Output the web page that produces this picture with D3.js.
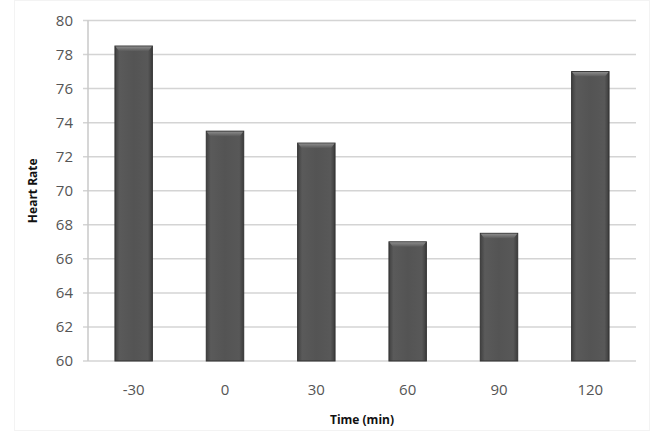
<!DOCTYPE html>
<html>
<head>
<meta charset="utf-8">
<script src="https://cdn.jsdelivr.net/npm/d3@7"></script>
<style>
  body { margin: 0; background: #fff; }
  text { font-family: "Open Sans", "Liberation Sans", sans-serif; }
</style>
</head>
<body>
<div id="chart"></div>
<script>
// heart rate by time point
const times = ["-30", "0", "30", "60", "90", "120"];
const heartRate = [78.5, 73.5, 72.8, 67, 67.5, 77];
const yTicks = [60, 62, 64, 66, 68, 70, 72, 74, 76, 78, 80];

const width = 657;
const height = 431;
const margin = { top: 20.5, right: 21, bottom: 70, left: 88 };

const svg = d3.select("#chart")
  .append("svg")
  .attr("width", width)
  .attr("height", height);

// faint outer frame
svg.append("rect")
  .attr("x", 14.5).attr("y", 0.5)
  .attr("width", width - 22).attr("height", height - 1)
  .attr("fill", "none")
  .attr("stroke", "#f3f3f3");

// bar shading
const defs = svg.append("defs");
const grad = defs.append("linearGradient")
  .attr("id", "barGrad")
  .attr("x1", "0%").attr("x2", "100%");
grad.append("stop").attr("offset", "0%").attr("stop-color", "#404040");
grad.append("stop").attr("offset", "12%").attr("stop-color", "#5a5a5a");
grad.append("stop").attr("offset", "50%").attr("stop-color", "#545454");
grad.append("stop").attr("offset", "88%").attr("stop-color", "#585858");
grad.append("stop").attr("offset", "100%").attr("stop-color", "#3c3c3c");

const topGrad = defs.append("linearGradient")
  .attr("id", "topGrad")
  .attr("x1", "0%").attr("x2", "0%").attr("y1", "0%").attr("y2", "100%");
topGrad.append("stop").attr("offset", "0%").attr("stop-color", "#8a8a8a");
topGrad.append("stop").attr("offset", "100%").attr("stop-color", "#5a5a5a");

const x = d3.scaleBand()
  .domain(times)
  .range([margin.left, width - margin.right])
  .paddingInner(0.59)
  .paddingOuter(0.295);

const y = d3.scaleLinear()
  .domain([60, 80])
  .range([361, margin.top]);

// gridlines
svg.append("g")
  .selectAll("line")
  .data(yTicks)
  .enter()
  .append("line")
  .attr("x1", margin.left - 5)
  .attr("x2", width - margin.right)
  .attr("y1", d => y(d))
  .attr("y2", d => y(d))
  .attr("stroke", "#d4d4d4")
  .attr("stroke-width", 1.5);

// y axis line
svg.append("line")
  .attr("x1", margin.left).attr("x2", margin.left)
  .attr("y1", y(80)).attr("y2", y(60))
  .attr("stroke", "#c8c8c8")
  .attr("stroke-width", 1.5);

// y tick labels
svg.append("g")
  .selectAll("text")
  .data(yTicks)
  .enter()
  .append("text")
  .attr("x", 73)
  .attr("y", d => y(d))
  .attr("dy", "0.35em")
  .attr("text-anchor", "end")
  .attr("font-size", 15)
  .attr("fill", "#555")
  .text(d => d);

// bars
const bars = svg.append("g")
  .selectAll("g")
  .data(times)
  .enter()
  .append("g");

bars.append("rect")
  .attr("x", d => x(d))
  .attr("y", (d, i) => y(heartRate[i]))
  .attr("width", x.bandwidth())
  .attr("height", (d, i) => y(60) - y(heartRate[i]))
  .attr("fill", "url(#barGrad)")
  .attr("stroke", "#333")
  .attr("stroke-width", 1);

bars.append("path")
  .attr("d", (d, i) => {
    const x0 = x(d), x1 = x(d) + x.bandwidth(), t = y(heartRate[i]);
    return `M${x0 + 0.5},${t + 0.5} L${x1 - 0.5},${t + 0.5} L${x1 - 4},${t + 5} L${x0 + 4},${t + 5} Z`;
  })
  .attr("fill", "url(#topGrad)");

// x tick labels
svg.append("g")
  .selectAll("text")
  .data(times)
  .enter()
  .append("text")
  .attr("x", d => x(d) + x.bandwidth() / 2)
  .attr("y", 390)
  .attr("dy", "0.35em")
  .attr("text-anchor", "middle")
  .attr("font-size", 15)
  .attr("fill", "#555")
  .text(d => d);

// axis titles
svg.append("text")
  .attr("x", 362)
  .attr("y", 424)
  .attr("text-anchor", "middle")
  .attr("font-size", 12)
  .attr("font-weight", "bold")
  .attr("fill", "#111")
  .text("Time (min)");

svg.append("text")
  .attr("transform", `translate(37, ${y(70)}) rotate(-90)`)
  .attr("text-anchor", "middle")
  .attr("font-size", 12)
  .attr("font-weight", "bold")
  .attr("fill", "#111")
  .text("Heart Rate");
</script>
</body>
</html>
